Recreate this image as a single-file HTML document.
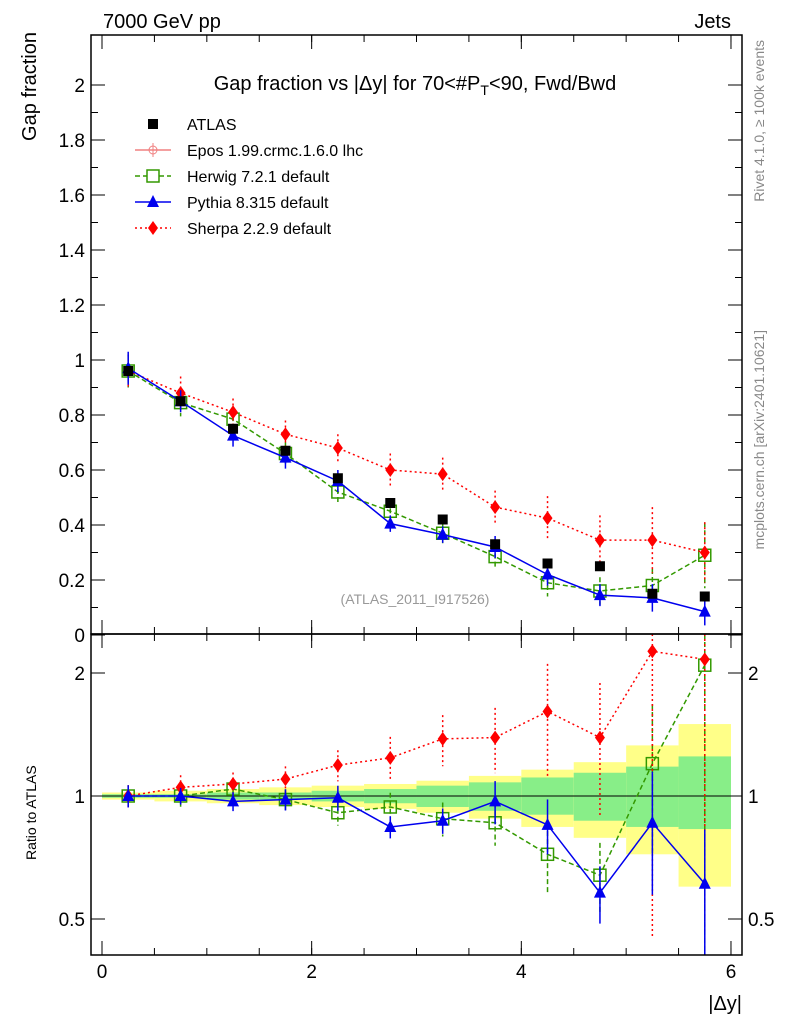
<!DOCTYPE html>
<html><head><meta charset="utf-8"><style>
body{margin:0;background:#fff;font-family:"Liberation Sans",sans-serif}
</style></head><body>
<svg id="chart" width="786" height="1024" xmlns="http://www.w3.org/2000/svg" font-family="Liberation Sans, sans-serif">
<g id="bands"></g>
<g id="marks"></g>
<g id="axes"></g>
<text x="103" y="28" font-size="20">7000 GeV pp</text>
<text x="731" y="28" font-size="20" text-anchor="end">Jets</text>
<text x="415" y="90" font-size="20" text-anchor="middle">Gap fraction vs |Δy| for 70&lt;#P<tspan font-size="14" dy="5">T</tspan><tspan dy="-5">&lt;90, Fwd/Bwd</tspan></text>
<text x="415" y="604" font-size="14" fill="#999" text-anchor="middle">(ATLAS_2011_I917526)</text>
<text transform="translate(36,32) rotate(-90)" font-size="20" text-anchor="end">Gap fraction</text>
<text transform="translate(36,860) rotate(-90)" font-size="14" text-anchor="start">Ratio to ATLAS</text>
<text x="742" y="1010" font-size="20" text-anchor="end">|Δy|</text>
<text transform="translate(764,40) rotate(-90)" font-size="14" fill="#888" text-anchor="end">Rivet 4.1.0, ≥ 100k events</text>
<text transform="translate(764,330) rotate(-90)" font-size="14" fill="#888" text-anchor="end">mcplots.cern.ch [arXiv:2401.10621]</text>
<g id="legend"></g>
</svg>
<script>
const centers=[0.25,0.75,1.25,1.75,2.25,2.75,3.25,3.75,4.25,4.75,5.25,5.75];
const atlas=[0.96,0.85,0.75,0.67,0.57,0.48,0.42,0.33,0.26,0.25,0.15,0.14];
const sherpa=[0.96,0.88,0.81,0.73,0.68,0.60,0.585,0.465,0.425,0.345,0.345,0.30];
const sherpaErr=[0.06,0.06,0.05,0.05,0.05,0.06,0.06,0.06,0.08,0.09,0.12,0.11];
const pythia=[0.97,0.85,0.725,0.645,0.56,0.405,0.365,0.32,0.22,0.145,0.135,0.085];
const pythiaErr=[0.06,0.04,0.04,0.04,0.04,0.03,0.03,0.04,0.04,0.04,0.05,0.05];
const herwig=[0.96,0.845,0.785,0.66,0.52,0.45,0.37,0.285,0.19,0.16,0.18,0.29];
const herwigErr=[0.06,0.05,0.04,0.04,0.04,0.04,0.04,0.04,0.05,0.05,0.06,0.12];
const rSherpa=[1,1.05,1.07,1.10,1.19,1.24,1.38,1.39,1.61,1.39,2.26,2.16];
const rPythia=[1,1,0.97,0.98,0.99,0.84,0.87,0.97,0.85,0.58,0.86,0.61];
const rHerwig=[1,1,1.04,0.98,0.91,0.94,0.88,0.86,0.72,0.64,1.20,2.09];
const yelUp=[1.02,1.03,1.04,1.05,1.06,1.07,1.09,1.12,1.16,1.21,1.33,1.5];
const yelDn=[0.98,0.97,0.96,0.95,0.94,0.93,0.91,0.88,0.84,0.79,0.72,0.6];
const grnUp=[1.01,1.01,1.02,1.02,1.03,1.04,1.06,1.08,1.11,1.14,1.18,1.25];
const grnDn=[0.99,0.99,0.98,0.98,0.97,0.96,0.94,0.92,0.9,0.87,0.84,0.83];
const xTicks=[0,2,4,6];
const yTicks=[0,0.2,0.4,0.6,0.8,1,1.2,1.4,1.6,1.8,2];
const rTicks=[0.5,1,2];
const NS="http://www.w3.org/2000/svg";
const X=v=>102+v*104.83;
const Y=v=>635-v*275;
const R=v=>796-123*Math.log2(v);
const L=91,Rt=742,T=35,M=634,B=955;
function el(tag,attrs,parent){const e=document.createElementNS(NS,tag);for(const k in attrs)e.setAttribute(k,attrs[k]);parent.appendChild(e);return e;}
const bands=document.getElementById('bands'),marks=document.getElementById('marks'),axes=document.getElementById('axes'),leg=document.getElementById('legend');
centers.forEach((c,i)=>{
 let b=el('rect',{x:X(c-0.25),y:R(yelUp[i]),width:X(0.5)-X(0),height:R(yelDn[i])-R(yelUp[i]),fill:'#ffff88'},bands);
 
 
 let g=el('rect',{x:X(c-0.25),y:R(grnUp[i]),width:X(0.5)-X(0),height:R(grnDn[i])-R(grnUp[i]),fill:'#88ee88'},bands);
 
 
});
el('line',{x1:L,x2:Rt,y1:R(1),y2:R(1),stroke:'#000'},bands);
function clipY(y,lo,hi){return Math.max(lo,Math.min(hi,y));}
function series(vals,errs,fy,color,dash,marker,name,lo,hi,isRatio){
 const pts=centers.map((c,i)=>[X(c),clipY(fy(vals[i]),lo,hi)]);
 let p=el('polyline',{points:pts.map(p=>p.join(',')).join(' '),fill:'none',stroke:color,'stroke-width':1.5,'stroke-dasharray':dash},marks);
 
 
 centers.forEach((c,i)=>{
  const x=X(c),y=fy(vals[i]);
  const e=errs[i];
  let up,dn;
  if(isRatio){const rel=e/Math.max(atlas[i],0.12);up=R(vals[i]*(1+rel));dn=R(Math.max(0.3,vals[i]*(1-rel)));}
  else{up=fy(vals[i]+e);dn=fy(vals[i]-e);}
  let l=el('line',{x1:x,x2:x,y1:clipY(up,lo,hi),y2:clipY(dn,lo,hi),stroke:color,'stroke-width':1.5,'stroke-dasharray':dash},marks);
  
  
  if(y<lo||y>hi)return;
  let m;
  if(marker==='osq')m=el('rect',{x:x-6,y:y-6,width:12,height:12,fill:'none',stroke:color,'stroke-width':1.5},marks);
  else if(marker==='tri')m=el('polygon',{points:`${x},${y-7} ${x-6},${y+5} ${x+6},${y+5}`,fill:color},marks);
  else m=el('polygon',{points:`${x},${y-7} ${x+5},${y} ${x},${y+7} ${x-5},${y}`,fill:color},marks);
  
  
 });
}
series(herwig,herwigErr,Y,'#339900','5,3','osq','herwig',T,M,false);
series(sherpa,sherpaErr,Y,'#ff0000','2,3','dia','sherpa',T,M,false);
series(pythia,pythiaErr,Y,'#0000ee','','tri','pythia',T,M,false);
centers.forEach((c,i)=>{let m=el('rect',{x:X(c)-5,y:Y(atlas[i])-5,width:10,height:10,fill:'#000'},marks);
 
 });
series(rHerwig,herwigErr,R,'#339900','5,3','osq','herwig-ratio',M,B,true);
series(rSherpa,sherpaErr,R,'#ff0000','2,3','dia','sherpa-ratio',M,B,true);
series(rPythia,pythiaErr,R,'#0000ee','','tri','pythia-ratio',M,B,true);
el('rect',{x:L,y:T,width:Rt-L,height:M-T,fill:'none',stroke:'#000','stroke-width':1.5},axes);
el('rect',{x:L,y:M,width:Rt-L,height:B-M,fill:'none',stroke:'#000','stroke-width':1.5},axes);
yTicks.forEach(v=>{const y=Y(v);
 el('line',{x1:L,x2:L+14,y1:y,y2:y,stroke:'#000'},axes);el('line',{x1:Rt,x2:Rt-14,y1:y,y2:y,stroke:'#000'},axes);
 let t=el('text',{x:L-6,y:y+7,'font-size':19,'text-anchor':'end'},axes);t.textContent=String(v);
 
 
 const y2=Y(v+0.1);if(v<2){el('line',{x1:L,x2:L+7,y1:y2,y2:y2,stroke:'#000'},axes);el('line',{x1:Rt,x2:Rt-7,y1:y2,y2:y2,stroke:'#000'},axes);}
});
rTicks.forEach(v=>{const y=R(v);
 el('line',{x1:L,x2:L+14,y1:y,y2:y,stroke:'#000'},axes);el('line',{x1:Rt,x2:Rt-14,y1:y,y2:y,stroke:'#000'},axes);
 let t=el('text',{x:L-6,y:y+7,'font-size':19,'text-anchor':'end'},axes);t.textContent=String(v);
 
 
 let t2=el('text',{x:Rt+6,y:y+7,'font-size':19},axes);t2.textContent=String(v);
 
 
});
xTicks.forEach(v=>{const x=X(v);
 el('line',{x1:x,x2:x,y1:B,y2:B-14,stroke:'#000'},axes);el('line',{x1:x,x2:x,y1:M,y2:M-14,stroke:'#000'},axes);el('line',{x1:x,x2:x,y1:M,y2:M+14,stroke:'#000'},axes);el('line',{x1:x,x2:x,y1:T,y2:T+14,stroke:'#000'},axes);
 let t=el('text',{x:x,y:B+23,'font-size':19,'text-anchor':'middle'},axes);t.textContent=String(v);
 
 
});
for(let v=0;v<=6.01;v+=0.5){const x=X(v);[[B,-7],[M,-7],[M,7],[T,7]].forEach(([y0,d])=>el('line',{x1:x,x2:x,y1:y0,y2:y0+d,stroke:'#000'},axes));}
const legItems=[['ATLAS','#000','','sq'],['Epos 1.99.crmc.1.6.0 lhc','#f08080','','cross'],['Herwig 7.2.1 default','#339900','5,3','osq'],['Pythia 8.315 default','#0000ee','','tri'],['Sherpa 2.2.9 default','#ff0000','2,3','dia']];
legItems.forEach((it,i)=>{const y=124+i*26,x=153;
 const g=el('g',{},leg);
 
 
 if(i>0)el('line',{x1:x-18,x2:x+18,y1:y,y2:y,stroke:it[1],'stroke-width':1.5,'stroke-dasharray':it[2]},g);
 if(it[3]==='sq')el('rect',{x:x-5,y:y-5,width:10,height:10,fill:'#000'},g);
 else if(it[3]==='osq')el('rect',{x:x-6,y:y-6,width:12,height:12,fill:'#fff',stroke:it[1],'stroke-width':1.5},g);
 else if(it[3]==='tri')el('polygon',{points:`${x},${y-7} ${x-6},${y+5} ${x+6},${y+5}`,fill:it[1]},g);
 else if(it[3]==='dia')el('polygon',{points:`${x},${y-7} ${x+5},${y} ${x},${y+7} ${x-5},${y}`,fill:it[1]},g);
 else {el('circle',{cx:x,cy:y,r:4,fill:'none',stroke:it[1]},g);el('line',{x1:x,x2:x,y1:y-7,y2:y+7,stroke:it[1]},g);}
 const t=el('text',{x:187,y:y+6,'font-size':16},g);t.textContent=it[0];
});
</script>
</body></html>
